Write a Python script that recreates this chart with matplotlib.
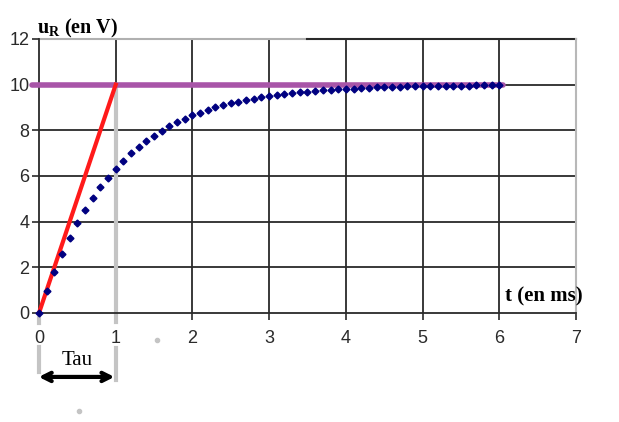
import numpy as np
import matplotlib.pyplot as plt

plt.rcParams['mathtext.fontset'] = 'custom'
plt.rcParams['mathtext.rm'] = 'Liberation Serif'
plt.rcParams['mathtext.bf'] = 'Liberation Serif:bold'

# charge curve u_R(t) (t in ms, u in V)
t_ms = [0.0, 0.1, 0.2, 0.3, 0.4, 0.5, 0.6, 0.7, 0.8, 0.9,
        1.0, 1.1, 1.2, 1.3, 1.4, 1.5, 1.6, 1.7, 1.8, 1.9,
        2.0, 2.1, 2.2, 2.3, 2.4, 2.5, 2.6, 2.7, 2.8, 2.9,
        3.0, 3.1, 3.2, 3.3, 3.4, 3.5, 3.6, 3.7, 3.8, 3.9,
        4.0, 4.1, 4.2, 4.3, 4.4, 4.5, 4.6, 4.7, 4.8, 4.9,
        5.0, 5.1, 5.2, 5.3, 5.4, 5.5, 5.6, 5.7, 5.8, 5.9, 6.0]
u_volts = [0.00, 0.95, 1.81, 2.59, 3.30, 3.93, 4.51, 5.03, 5.51, 5.93,
           6.32, 6.67, 6.99, 7.27, 7.53, 7.77, 7.98, 8.17, 8.35, 8.50,
           8.65, 8.78, 8.89, 9.00, 9.09, 9.18, 9.26, 9.33, 9.39, 9.45,
           9.50, 9.55, 9.59, 9.63, 9.67, 9.70, 9.73, 9.75, 9.78, 9.80,
           9.82, 9.83, 9.85, 9.86, 9.88, 9.89, 9.90, 9.91, 9.92, 9.93,
           9.93, 9.94, 9.94, 9.95, 9.95, 9.96, 9.96, 9.97, 9.97, 9.97, 9.98]

E = 10      # asymptote
tau = 1     # time constant, ms
x_ticks = [0, 1, 2, 3, 4, 5, 6, 7]
y_ticks = [0, 2, 4, 6, 8, 10, 12]

fig = plt.figure(figsize=(6.19, 4.22), dpi=100)
ax = fig.add_axes([0.063, 0.2583, 0.8675, 0.6493])
ax.set_xlim(0, 7)
ax.set_ylim(0, 12)

# grid
for x in x_ticks[1:-1]:
    ax.axvline(x, color='#2a2a2a', lw=1.3, zorder=1)
for y in y_ticks[1:-1]:
    ax.axhline(y, color='#2a2a2a', lw=1.3, zorder=1)
ax.plot([0, 3.49], [12, 12], color='#b0b0b0', lw=1.5, zorder=1, clip_on=False)
ax.plot([3.49, 7], [12, 12], color='#2a2a2a', lw=1.5, zorder=1, clip_on=False)

for side in ['left', 'bottom']:
    ax.spines[side].set_color('#2a2a2a')
    ax.spines[side].set_linewidth(1.3)
ax.spines['right'].set_color('#b8b8b8')
ax.spines['right'].set_linewidth(1.5)
ax.spines['top'].set_visible(False)

ax.set_xticks(x_ticks)
ax.set_yticks(y_ticks)
ax.tick_params(direction='out', length=5, width=1.2, color='#2a2a2a',
               labelsize=13, labelcolor='#2a2a2a')
ax.tick_params(axis='x', pad=7)
ax.tick_params(axis='y', pad=2)
for lab in ax.get_xticklabels() + ax.get_yticklabels():
    lab.set_fontfamily('Liberation Sans')

# asymptote and tangent
ax.plot([-0.09, 6.05], [E, E], color='#a855a8', lw=4, solid_capstyle='round',
        zorder=3, clip_on=False)
ax.plot([0, tau], [0, E], color='#ff1a1a', lw=3, zorder=4, clip_on=False)

# measured points
ax.plot(t_ms, u_volts, linestyle='none', marker='D', markersize=3.5,
        color='#000080', zorder=5, clip_on=False)

# grey construction lines at t = tau and t = 0
gray = '#c4c4c4'
ax.plot([tau, tau], [E, -0.4], color=gray, lw=3, zorder=2, clip_on=False)
ax.plot([tau, tau], [-1.55, -2.95], color=gray, lw=3, zorder=2, clip_on=False)
ax.plot([0, 0], [-0.2, -0.45], color=gray, lw=3, zorder=2, clip_on=False)
ax.plot([0, 0], [-1.5, -2.6], color=gray, lw=3, zorder=2, clip_on=False)
ax.plot([1.54], [-1.18], 'o', color=gray, markersize=3, clip_on=False)
ax.plot([0.52], [-4.28], 'o', color=gray, markersize=3, clip_on=False)

# Tau arrow
ax.annotate('', xy=(-0.04, -2.8), xytext=(tau + 0.02, -2.8),
            arrowprops=dict(arrowstyle='<->', color='black', lw=3,
                            mutation_scale=15),
            annotation_clip=False)
ax.text(0.5, -2.08, 'Tau', ha='center', va='center', fontsize=15,
        fontfamily='Liberation Serif')

# axis titles
ax.text(-0.02, 12.45, r'u$_{\mathbf{R}}$ (en V)', ha='left', va='center',
        fontsize=14.5, fontweight='bold', fontfamily='Liberation Serif')
ax.text(6.08, 0.74, 't (en ms)', ha='left', va='center',
        fontsize=15, fontweight='bold', fontfamily='Liberation Serif')

fig.savefig('out.png', dpi=100)
